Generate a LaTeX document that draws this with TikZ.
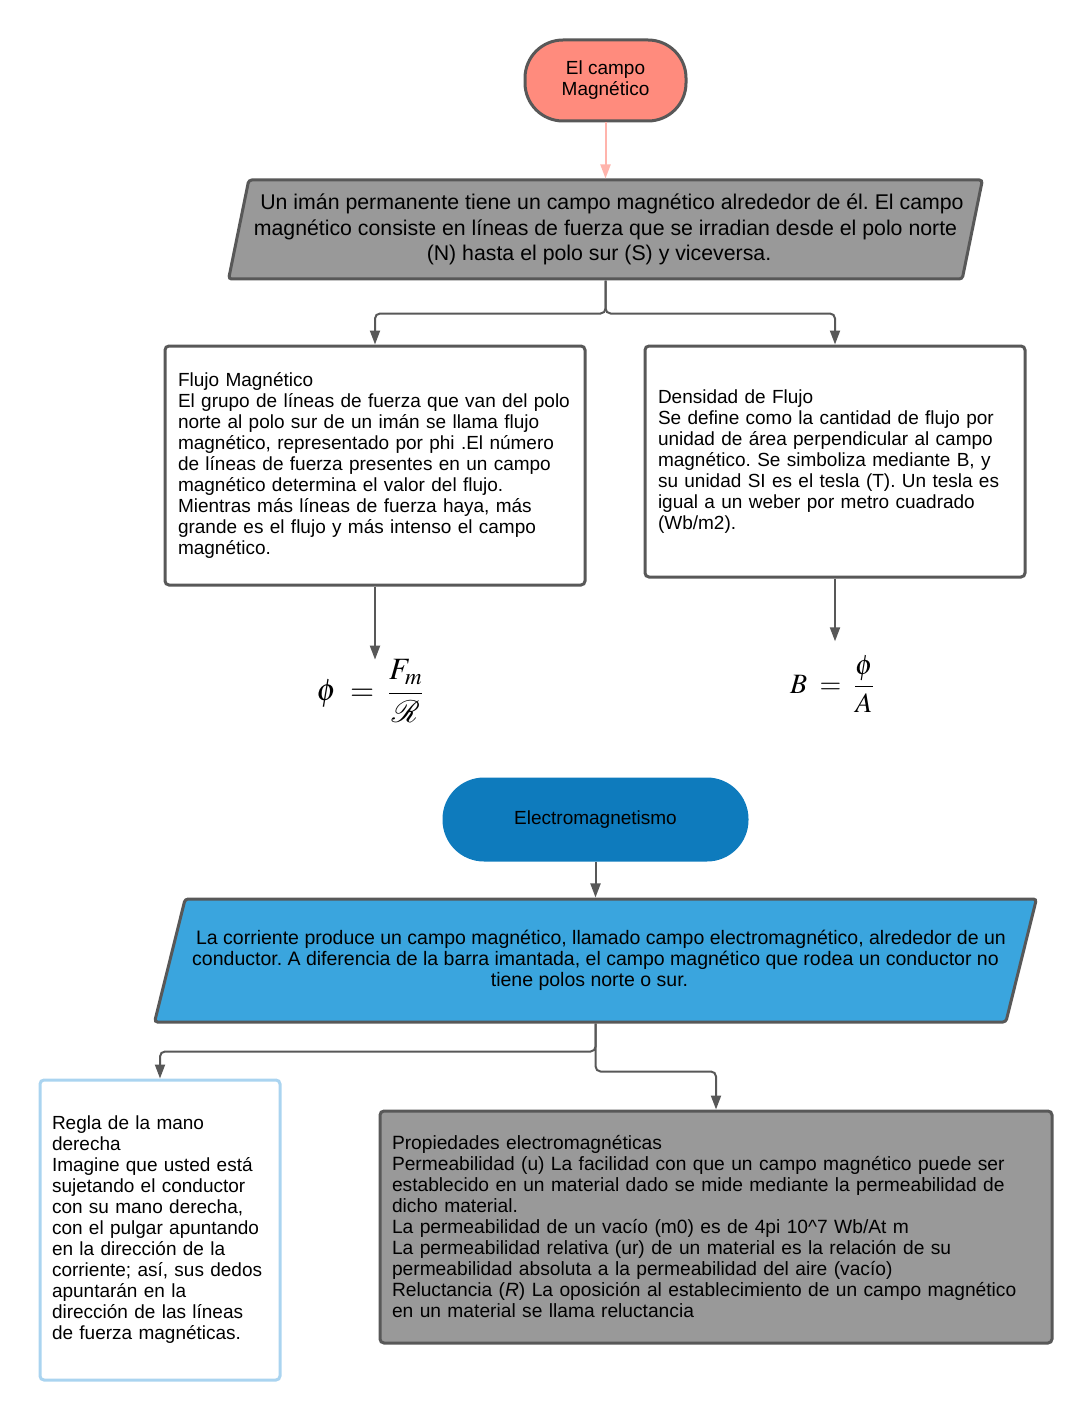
\RequirePackage{fix-cm}
\documentclass[tikz,border=0pt]{standalone}
\usepackage{amsmath}
\usepackage{mathptmx}
\usepackage{fontspec}
\setmainfont{Liberation Sans}
\usetikzlibrary{arrows.meta,shapes.geometric}
\frenchspacing

\definecolor{salmon}{RGB}{255,139,125}
\definecolor{pinkline}{RGB}{255,180,172}
\definecolor{frame}{RGB}{88,88,88}
\definecolor{midgray}{RGB}{153,153,153}
\definecolor{deepblue}{RGB}{14,123,189}
\definecolor{skyblue}{RGB}{58,165,222}
\definecolor{paleblue}{RGB}{170,212,240}

\begin{document}
\begin{tikzpicture}[x=1pt, y=-1pt,
	link/.style={draw=frame, line width=2pt, rounded corners=5, -{Triangle[length=14pt,width=10pt]}},
	pinklink/.style={draw=pinkline, line width=2pt, -{Triangle[length=14pt,width=10pt]}},
	terminal/.style={line width=3pt, rounded corners=38, align=center, font=\fontsize{19}{21}\selectfont},
	parallel/.style={shape=trapezium, trapezium stretches=true, draw=frame, line width=3pt, rounded corners=3, align=center, inner xsep=0pt},
	textbox/.style={draw=frame, line width=3pt, rounded corners=4, fill=white, align=left, inner xsep=0pt, font=\fontsize{19}{21}\selectfont},
	formula/.style={inner sep=0pt, font=\fontsize{28}{32}\selectfont}]
	\useasboundingbox (0,0) rectangle (1091,1420);

	\node[terminal, draw=frame, fill=salmon, minimum width=161, minimum height=81] (campo) at (605.5,80.5) {El campo\\Magnético};
	\node[parallel, fill=midgray, trapezium left angle=75.4, trapezium right angle=104.6, minimum width=759, minimum height=99, font=\fontsize{21.3}{25.5}\selectfont] (iman) at (605.5,229.5)
		{\hspace*{13pt}Un imán permanente tiene un campo magnético alrededor de él. El campo\\ magnético consiste en líneas de fuerza que se irradian desde el polo norte\\ (N) hasta el polo sur (S) y viceversa.\hspace*{13pt}};

	\node[textbox, minimum width=420, minimum height=239, text width=394] (flujo) at (375,465.5)
		{Flujo Magnético\\ El grupo de líneas de fuerza que van del polo\\ norte al polo sur de un imán se llama flujo\\ magnético, representado por phi .El número\\ de líneas de fuerza presentes en un campo\\ magnético determina el valor del flujo.\\ Mientras más líneas de fuerza haya, más\\ grande es el flujo y más intenso el campo\\ magnético.};
	\node[textbox, minimum width=380, minimum height=231, text width=354] (densidad) at (835,461.5)
		{Densidad de Flujo\\ Se define como la cantidad de flujo por\\ unidad de área perpendicular al campo\\ magnético. Se simboliza mediante B, y\\ su unidad SI es el tesla (T). Un tesla es\\ igual a un weber por metro cuadrado\\ (Wb/m2).};

	\node[formula, font=\fontsize{31}{34}\selectfont] (flujoeq) at (370,691) {$\phi \;=\; \dfrac{F_m}{\mathcal{R}}$};
	\node[formula, inner ysep=14pt] (densidadeq) at (832,684) {$B \;=\; \dfrac{\phi}{A}$};

	\node[terminal, draw=deepblue, fill=deepblue, rounded corners=40, minimum width=303, minimum height=81] (electro) at (595.5,819.5) {Electromagnetismo};
	\node[parallel, fill=skyblue, trapezium left angle=65.5, trapezium right angle=114.5, minimum width=879, minimum height=123, font=\fontsize{19.5}{21}\selectfont] (corriente) at (595.5,960.5)
		{\hspace*{11pt}La corriente produce un campo magnético, llamado campo electromagnético, alrededor de un\\ conductor. A diferencia de la barra imantada, el campo magnético que rodea un conductor no\\ tiene polos norte o sur.\hspace*{12pt}};

	\node[textbox, draw=paleblue, minimum width=240, minimum height=300, text width=216] (regla) at (160,1230)
		{Regla de la mano\\ derecha\\ Imagine que usted está\\ sujetando el conductor\\ con su mano derecha,\\ con el pulgar apuntando\\ en la dirección de la\\ corriente; así, sus dedos\\ apuntarán en la\\ dirección de las líneas\\ de fuerza magnéticas.};
	\node[textbox, fill=midgray, minimum width=672, minimum height=232, text width=648, font=\fontsize{19.2}{21}\selectfont] (propiedades) at (716,1227)
		{Propiedades electromagnéticas\\ Permeabilidad (u) La facilidad con que un campo magnético puede ser\\ establecido en un material dado se mide mediante la permeabilidad de\\ dicho material.\\ La permeabilidad de un vacío (m0) es de 4pi 10\textasciicircum{}7 Wb/At m\\ La permeabilidad relativa (ur) de un material es la relación de su\\ permeabilidad absoluta a la permeabilidad del aire (vacío)\\ Reluctancia (\textit{R}) La oposición al establecimiento de un campo magnético\\ en un material se llama reluctancia};

	\draw[pinklink] (campo) -- (iman);
	\draw[link] (iman.south) -- ++(0,33) -| (flujo.north);
	\draw[link] (iman.south) -- ++(0,33) -| (densidad.north);
	\draw[link] (flujo.south) -- (flujo.south |- flujoeq.north);
	\draw[link] (densidad.south) -- (densidad.south |- densidadeq.north);
	\draw[link] (electro) -- (corriente);
	\draw[link] (corriente.south) -- ++(0,28) -| (regla.north);
	\draw[link] (corriente.south) -- ++(0,48) -| (propiedades.north);
\end{tikzpicture}
\end{document}
